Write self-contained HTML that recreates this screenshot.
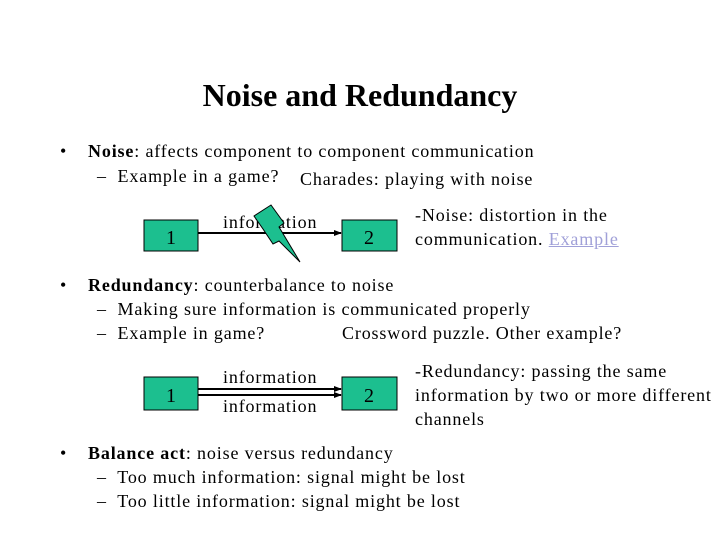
<!DOCTYPE html>
<html><head><meta charset="utf-8"><style>
body{margin:0;width:720px;height:540px;background:#fff;position:relative;overflow:hidden;font-family:"Liberation Serif",serif;color:#000}
.t{position:absolute;white-space:nowrap;font-size:18px;line-height:20px;letter-spacing:0.85px}
</style></head><body>
<div class="t" style="left:0;width:720px;text-align:center;top:76px;font-size:32px;line-height:38px;font-weight:bold;letter-spacing:0">Noise and Redundancy</div>

<div class="t" style="left:60px;top:141px">•</div>
<div class="t" style="left:88px;top:141px"><b>Noise</b>: affects component to component communication</div>
<div class="t" style="left:97px;top:166px">–&nbsp; Example in a game?</div>
<div class="t" style="left:300px;top:169px">Charades: playing with noise</div>

<div class="t" style="left:415px;top:205px">-Noise: distortion in the</div>
<div class="t" style="left:415px;top:229px">communication. <span style="color:#a0a0d8;text-decoration:underline">Example</span></div>

<div class="t" style="left:60px;top:275px">•</div>
<div class="t" style="left:88px;top:275px"><b>Redundancy</b>: counterbalance to noise</div>
<div class="t" style="left:97px;top:299px">–&nbsp; Making sure information is communicated properly</div>
<div class="t" style="left:97px;top:323px">–&nbsp; Example in game?</div>
<div class="t" style="left:342px;top:323px">Crossword puzzle. Other example?</div>

<div class="t" style="left:415px;top:361px">-Redundancy: passing the same</div>
<div class="t" style="left:415px;top:385px">information by two or more different</div>
<div class="t" style="left:415px;top:409px">channels</div>

<div class="t" style="left:60px;top:443px">•</div>
<div class="t" style="left:88px;top:443px"><b>Balance act</b>: noise versus redundancy</div>
<div class="t" style="left:97px;top:467px">–&nbsp; Too much information: signal might be lost</div>
<div class="t" style="left:97px;top:491px">–&nbsp; Too little information: signal might be lost</div>

<svg width="720" height="540" style="position:absolute;left:0;top:0">
<defs><marker id="a" markerWidth="8" markerHeight="8" refX="7" refY="4" orient="auto" markerUnits="userSpaceOnUse"><path d="M0,1 L8,4 L0,7z" fill="#000"/></marker></defs>
<rect x="144" y="220" width="54" height="31" fill="#1cbf8f" stroke="#000" stroke-width="1"/>
<rect x="342" y="220" width="55" height="31" fill="#1cbf8f" stroke="#000" stroke-width="1"/>
<line x1="198" y1="233" x2="341" y2="233" stroke="#000" stroke-width="2" marker-end="url(#a)"/>
<text x="223" y="228" font-family="Liberation Serif" font-size="18" letter-spacing="0.85">information</text>
<polygon points="254,216 271,205 284,223 279,227 300,262 279,241 273,244 263,229" fill="#1cbf8f" stroke="#000" stroke-width="1"/>
<text x="171" y="244" font-family="Liberation Serif" font-size="20" text-anchor="middle">1</text>
<text x="369" y="244" font-family="Liberation Serif" font-size="20" text-anchor="middle">2</text>

<rect x="144" y="377" width="54" height="33" fill="#1cbf8f" stroke="#000" stroke-width="1"/>
<rect x="342" y="377" width="55" height="33" fill="#1cbf8f" stroke="#000" stroke-width="1"/>
<line x1="198" y1="389" x2="341" y2="389" stroke="#000" stroke-width="2" marker-end="url(#a)"/>
<line x1="198" y1="395" x2="341" y2="395" stroke="#000" stroke-width="2" marker-end="url(#a)"/>
<text x="223" y="383" font-family="Liberation Serif" font-size="18" letter-spacing="0.85">information</text>
<text x="223" y="412" font-family="Liberation Serif" font-size="18" letter-spacing="0.85">information</text>
<text x="171" y="402" font-family="Liberation Serif" font-size="20" text-anchor="middle">1</text>
<text x="369" y="402" font-family="Liberation Serif" font-size="20" text-anchor="middle">2</text>
</svg>
</body></html>
